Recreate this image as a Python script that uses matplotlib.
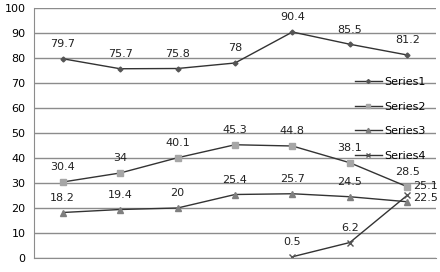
import matplotlib.pyplot as plt
import numpy as np

categories = [1, 2, 3, 4, 5, 6, 7]
series1 = [79.7, 75.7, 75.8, 78, 90.4, 85.5, 81.2]
series2 = [30.4, 34, 40.1, 45.3, 44.8, 38.1, 28.5]
series3 = [18.2, 19.4, 20, 25.4, 25.7, 24.5, 22.5]
series4 = [np.nan, np.nan, np.nan, np.nan, 0.5, 6.2, 25.1]
y_ticks = [0, 10, 20, 30, 40, 50, 60, 70, 80, 90, 100]

fig = plt.figure(figsize=(4.4, 2.72), dpi=100)
ax = fig.add_axes([34 / 440, 14 / 272, 402 / 440, 250 / 272])

x = np.arange(len(categories))
styles = [
    ("Series1", series1, "D", 2.5, "#555555"),
    ("Series2", series2, "s", 4, "#a6a6a6"),
    ("Series3", series3, "^", 4, "#7f7f7f"),
    ("Series4", series4, "x", 4, "#555555"),
]
for name, vals, mk, ms, mc in styles:
    ax.plot(x, vals, color="#333333", linewidth=1, marker=mk, markersize=ms,
            markerfacecolor=mc, markeredgecolor=mc, label=name)
    for i, v in enumerate(vals):
        if np.isnan(v):
            continue
        dx, dy, ha = 0, 7, "center"
        # the two crowded labels at the last point sit to the right
        if name == "Series4" and i == 6:
            dx, dy, ha = 4, 7, "left"
        if name == "Series3" and i == 6:
            dx, dy, ha = 4, 3, "left"
        ax.annotate(f"{v:g}", (i, v), xytext=(dx, dy), textcoords="offset points",
                    ha=ha, va="bottom" if ha == "center" else "center",
                    fontsize=8, color="#222222")

ax.set_xlim(-0.5, len(categories) - 0.5)
ax.set_ylim(0, 100)
ax.set_yticks(y_ticks)
ax.set_xticks([])
ax.tick_params(axis="y", length=0, labelsize=8, pad=6)
ax.grid(axis="y", color="#8c8c8c", linewidth=1)
ax.set_axisbelow(True)
for side in ["top", "right"]:
    ax.spines[side].set_visible(False)
ax.spines["left"].set_color("#8c8c8c")
ax.spines["bottom"].set_color("#8c8c8c")

ax.legend(loc="upper left", bbox_to_anchor=(0.785, 0.745), frameon=False,
          fontsize=8, handlelength=2.4, handletextpad=0.2, labelspacing=1.3,
          borderpad=0, markerscale=0.8)

fig.savefig("out.png", dpi=100)
